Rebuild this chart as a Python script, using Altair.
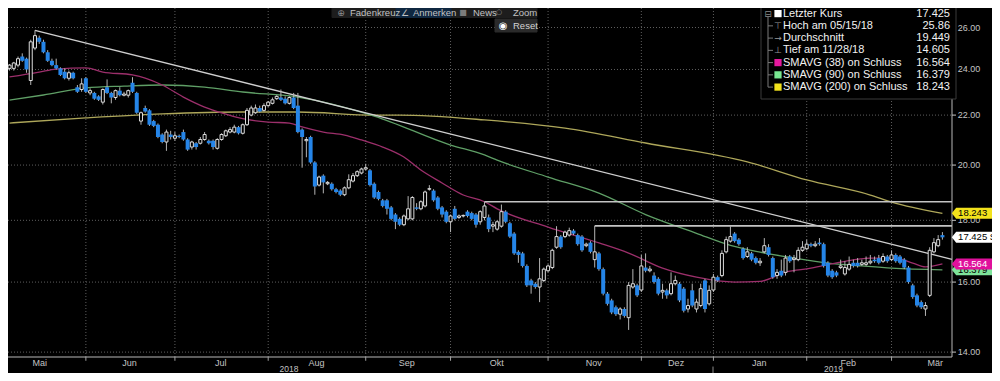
import altair as alt
import pandas as pd

# ---------------- data ----------------
opens = [
    24.05, 24.05, 24.2, 24.6, 24.5, 23.5, 25.0, 25.5, 25.3, 24.8,
    24.4, 24.2, 24.05, 23.9, 23.6, 23.85, 23.2, 23.1, 23.6, 22.95,
    22.95, 22.8, 22.55, 23.2, 22.95, 22.75, 23.05, 22.85, 22.85, 23.4,
    22.95, 21.75, 22.3, 22.2, 21.75, 21.6, 21.2, 20.9, 21.2, 21.05,
    21.15, 21.3, 21.0, 20.7, 20.85, 20.85, 21.0, 20.95, 20.95, 20.65,
    21.0, 21.15, 21.3, 21.3, 21.5, 21.25, 21.6, 22.0, 22.1, 22.3,
    22.2, 22.4, 22.5, 22.7, 22.75, 22.7, 22.5, 22.75, 22.4, 21.4,
    20.95, 21.1, 20.1, 19.25, 19.6, 19.3, 19.3, 19.1, 19.05, 18.9,
    19.15, 19.4, 19.6, 19.7, 19.85, 19.8, 19.3, 19.0, 18.7, 18.7,
    18.45, 18.2, 18.05, 17.85, 18.05, 18.05, 18.45, 18.4, 18.5, 19.1,
    19.05, 18.8, 18.45, 18.3, 17.95, 18.4, 18.1, 18.15, 18.3, 18.25,
    18.2, 17.95, 18.1, 18.1, 17.8, 17.7, 17.8, 18.3, 17.9, 17.55,
    16.95, 16.9, 16.5, 16.05, 15.95, 15.85, 16.05, 16.35, 16.45, 17.1,
    17.45, 17.45, 17.5, 17.65, 17.5, 17.45, 17.15, 17.25, 16.7, 16.9,
    16.4, 15.65, 15.45, 15.25, 15.05, 15.2, 14.95, 15.85, 15.9, 15.76,
    16.45, 16.35, 16.2, 16.1, 15.7, 15.75, 15.65, 15.95, 15.95, 15.8,
    15.2, 15.75, 15.2, 15.3, 16.05, 15.35, 15.76, 16.15, 16.2, 16.95,
    17.3, 17.55, 17.35, 17.05, 16.8, 16.9, 16.75, 16.6, 16.95, 17.1,
    16.75, 16.2, 16.35, 16.3, 16.8, 16.7, 16.7, 17.0, 17.05, 17.2,
    17.15, 17.25, 17.2, 16.6, 16.35, 16.3, 16.45, 16.25, 16.4, 16.6,
    16.6, 16.55, 16.55, 16.6, 16.7, 16.75, 16.65, 16.8, 16.7, 16.85,
    16.8, 16.7, 16.45, 15.9, 15.6, 15.4, 15.2, 15.6, 16.95, 17.15, 17.5,
]
highs = [
    24.25, 24.35, 24.6, 24.75, 24.55, 25.4, 25.86, 25.6, 25.4, 24.9,
    24.5, 24.5, 24.1, 24.05, 23.95, 23.9, 23.3, 23.6, 23.65, 23.15,
    23.0, 22.85, 23.15, 23.55, 23.0, 23.1, 23.2, 23.0, 23.1, 23.65,
    23.0, 22.15, 22.4, 22.25, 21.8, 21.65, 21.25, 21.4, 21.35, 21.3,
    21.2, 21.4, 21.05, 20.95, 20.9, 21.1, 21.3, 21.0, 21.0, 21.05,
    21.25, 21.4, 21.5, 21.6, 21.55, 21.65, 22.3, 22.4, 22.45, 22.4,
    22.5, 22.6, 22.75, 22.85, 23.1, 22.8, 22.8, 22.95, 22.95, 21.45,
    21.1, 21.15, 20.15, 19.6, 19.65, 19.4, 19.35, 19.15, 19.1, 19.2,
    19.65, 19.7, 19.8, 19.9, 20.05, 19.85, 19.35, 19.05, 18.75, 18.75,
    18.5, 18.25, 18.1, 18.2, 18.85, 18.85, 18.6, 18.7, 19.05, 19.25,
    19.1, 18.85, 18.5, 18.35, 18.2, 18.5, 18.2, 18.2, 18.35, 18.3,
    18.25, 18.35, 18.65, 18.2, 17.95, 18.0, 18.55, 18.35, 17.95, 17.6,
    17.0, 16.95, 16.55, 16.1, 16.0, 16.75, 16.45, 16.55, 17.05, 17.8,
    17.5, 17.65, 17.75, 17.7, 17.55, 17.5, 17.25, 17.3, 17.81, 16.95,
    16.45, 15.7, 15.5, 15.3, 15.25, 15.25, 16.0, 16.4, 15.95, 16.85,
    16.9, 16.5, 16.3, 16.15, 15.95, 15.8, 16.3, 16.2, 16.0, 15.85,
    15.5, 15.95, 15.5, 15.95, 16.1, 15.9, 16.25, 16.2, 17.0, 17.45,
    17.8, 17.6, 17.4, 17.1, 17.1, 16.95, 16.8, 16.75, 17.4, 17.2,
    16.8, 16.4, 16.7, 16.85, 16.85, 16.85, 17.1, 17.3, 17.35, 17.25,
    17.3, 17.4, 17.25, 16.65, 16.4, 16.35, 16.7, 16.65, 16.8, 16.7,
    16.75, 16.7, 16.8, 16.85, 16.8, 16.85, 16.9, 16.85, 17.0, 16.9,
    16.85, 16.75, 16.5, 15.95, 15.65, 15.45, 15.4, 17.1, 17.4, 17.5, 17.6,
]
lows = [
    23.95, 23.95, 24.1, 24.35, 23.85, 23.3, 24.9, 25.2, 24.75, 24.35,
    24.15, 24.0, 23.7, 23.55, 23.5, 23.55, 22.95, 23.0, 22.95, 22.85,
    22.65, 22.6, 22.45, 22.9, 22.5, 22.65, 22.8, 22.8, 22.75, 22.95,
    22.05, 21.6, 22.1, 21.55, 21.5, 21.05, 20.85, 20.55, 21.0, 20.95,
    21.05, 20.95, 20.55, 20.6, 20.6, 20.8, 20.95, 20.8, 20.6, 20.6,
    20.95, 21.1, 21.25, 21.25, 21.2, 21.2, 21.55, 21.95, 22.05, 22.1,
    22.15, 22.35, 22.45, 22.65, 22.6, 22.45, 22.45, 22.25, 21.25, 19.9,
    20.3, 20.05, 18.9, 19.2, 18.95, 19.25, 19.05, 18.95, 18.85, 18.85,
    19.1, 19.35, 19.55, 19.65, 19.8, 19.2, 18.75, 18.7, 18.45, 18.2,
    18.0, 17.7, 17.8, 17.8, 18.0, 18.0, 18.35, 18.35, 18.45, 19.05,
    18.65, 18.35, 18.1, 17.9, 17.6, 18.0, 18.05, 18.1, 18.1, 18.0,
    17.75, 17.85, 18.0, 17.6, 17.6, 17.65, 17.75, 17.9, 17.4, 16.85,
    16.6, 16.45, 15.85, 15.65, 15.8, 15.4, 16.0, 16.3, 16.4, 17.05,
    17.05, 17.4, 17.45, 17.5, 17.15, 16.95, 17.1, 16.9, 16.45, 16.35,
    15.6, 15.3, 15.05, 15.0, 14.9, 14.95, 14.605, 15.8, 15.55, 15.7,
    16.3, 16.3, 15.95, 15.6, 15.5, 15.5, 15.6, 15.9, 15.4, 15.1,
    15.1, 15.25, 15.1, 15.25, 15.1, 15.3, 15.7, 16.0, 16.15, 16.9,
    17.25, 17.25, 17.15, 16.7, 16.75, 16.65, 16.55, 16.5, 16.9, 16.8,
    16.1, 16.1, 16.15, 16.2, 16.6, 16.3, 16.65, 16.95, 17.0, 17.1,
    17.1, 17.15, 16.45, 16.15, 16.1, 16.15, 16.4, 16.2, 16.35, 16.45,
    16.45, 16.5, 16.5, 16.55, 16.6, 16.55, 16.6, 16.6, 16.65, 16.6,
    16.55, 16.4, 15.95, 15.5, 15.25, 15.2, 15.0, 15.55, 16.9, 17.1, 17.35,
]
closes = [
    24.2, 24.3, 24.5, 24.4, 24.0, 25.3, 25.6, 25.3, 24.8, 24.4,
    24.2, 24.05, 23.75, 23.6, 23.85, 23.6, 23.0, 23.35, 23.0, 23.05,
    22.7, 22.65, 23.1, 22.95, 22.75, 23.05, 22.85, 22.9, 23.05, 23.0,
    22.1, 22.1, 22.15, 21.6, 21.55, 21.1, 20.9, 21.3, 21.1, 21.15,
    21.1, 21.0, 20.6, 20.9, 20.7, 21.0, 21.2, 20.85, 20.7, 21.0,
    21.2, 21.35, 21.4, 21.5, 21.25, 21.6, 22.2, 22.3, 22.3, 22.15,
    22.4, 22.55, 22.65, 22.8, 22.65, 22.5, 22.75, 22.3, 21.3, 21.1,
    21.0, 20.1, 19.2, 19.55, 19.35, 19.35, 19.1, 19.0, 18.9, 19.15,
    19.45, 19.6, 19.75, 19.85, 19.9, 19.25, 18.8, 18.75, 18.5, 18.4,
    18.05, 17.95, 17.85, 18.15, 18.4, 18.8, 18.4, 18.65, 19.0, 19.12,
    18.7, 18.4, 18.2, 17.95, 18.15, 18.05, 18.15, 18.17, 18.15, 18.05,
    17.85, 18.3, 18.5, 17.7, 17.85, 17.95, 18.3, 17.95, 17.45, 16.9,
    16.85, 16.5, 15.9, 15.9, 15.85, 16.1, 16.4, 16.5, 17.0, 17.45,
    17.1, 17.6, 17.65, 17.55, 17.2, 17.0, 17.2, 16.95, 16.95, 16.4,
    15.65, 15.35, 15.1, 15.05, 15.2, 15.0, 15.9, 15.95, 15.6, 16.5,
    16.35, 16.4, 16.0, 15.65, 15.75, 15.6, 15.95, 16.05, 15.45, 15.15,
    15.3, 15.3, 15.4, 15.8, 15.2, 15.75, 16.15, 16.05, 16.9, 17.35,
    17.45, 17.3, 17.2, 16.75, 16.95, 16.7, 16.6, 16.65, 17.15, 16.85,
    16.15, 16.3, 16.2, 16.75, 16.65, 16.75, 17.0, 17.1, 17.2, 17.15,
    17.2, 17.2, 16.5, 16.2, 16.15, 16.2, 16.5, 16.45, 16.55, 16.5,
    16.5, 16.6, 16.6, 16.65, 16.65, 16.6, 16.8, 16.65, 16.85, 16.65,
    16.6, 16.45, 16.0, 15.55, 15.3, 15.25, 15.3, 17.0, 17.25, 17.35, 17.425,
]

ma38_day = [0, 7, 11, 18, 22, 29, 32, 36, 41, 46, 50, 55, 61, 66, 69, 74, 79, 83, 88, 93,
            97, 102, 107, 112, 115, 127, 139, 146, 154, 162, 171, 177, 183, 189, 196, 203,
            209, 213, 216, 220]
ma38_val = [23.66, 23.88, 24.02, 24.07, 23.88, 23.75, 23.61, 23.30, 22.77, 22.34, 22.09,
            21.85, 21.71, 21.67, 21.51, 21.30, 21.18, 20.98, 20.70, 20.31, 19.81, 19.33,
            18.89, 18.65, 18.40, 17.77, 17.24, 16.91, 16.43, 16.15, 16.00, 16.02, 16.31,
            16.43, 16.62, 16.75, 16.75, 16.59, 16.47, 16.564]
ma90_day = [0, 8, 18, 27, 36, 46, 55, 68, 86, 104, 112, 115, 127, 139, 150, 162, 170, 177,
            185, 193, 201, 208, 220]
ma90_val = [22.64, 22.86, 23.17, 23.25, 23.30, 23.21, 22.99, 22.77, 21.96, 20.78, 20.39,
            20.19, 19.55, 18.96, 18.20, 17.56, 17.16, 16.94, 16.75, 16.59, 16.50, 16.43, 16.379]
ma200_day = [0, 18, 36, 55, 68, 86, 92, 112, 131, 150, 174, 188, 203, 208, 220]
ma200_val = [21.67, 21.88, 22.05, 22.13, 22.13, 22.0, 22.0, 21.80, 21.46, 20.86, 20.12,
             19.44, 18.89, 18.64, 18.243]

trend_day = [6, 222.26]
trend_val = [25.86, 16.71]
resist_start = [112, 138]
resist_val = [18.65, 17.81]

month_bounds = [18, 39, 61, 84, 104, 127, 149, 166, 188, 208]
month_names = ["Mai", "Jun", "Jul", "Aug", "Sep", "Okt", "Nov", "Dez", "Jan", "Feb", "Mär"]
month_mid = [7.1, 28.3, 49.8, 72.4, 93.7, 114.9, 137.8, 157.2, 176.8, 197.8, 218.3]
year_names = ["2018", "2019"]
year_mid = [65.9, 194.3]
price_ticks = [14, 16, 18, 20, 22, 24, 26]

legend_labels = ["Letzter Kurs", "Hoch am 05/15/18", "Durchschnitt", "Tief am 11/28/18",
                 "SMAVG (38)  on Schluss", "SMAVG (90)  on Schluss", "SMAVG (200)  on Schluss"]
legend_values = ["17.425", "25.86", "19.449", "14.605", "16.564", "16.379", "18.243"]
tag_values = [16.379, 18.243, 17.425, 16.564]
tag_texts = ["16.379", "18.243", "17.425 SDF", "16.564"]

# ---------------- styling ----------------
FONT = "Liberation Sans"
BLUE = "#2585e8"
C38, C90, C200 = "#9c2f6b", "#5f9f66", "#aea75a"
X0, X1 = -1.07, 222.26
Y0, Y1 = 13.87, 27.4
XS = alt.Scale(domain=[X0, X1], nice=False, zero=False)
YS = alt.Scale(type="log", domain=[Y0, Y1], nice=False)
GRID = "#5e5e5e"
AXC = "#c4c4c4"
dummy = pd.DataFrame({"k": [0]})


def X(f):
    return alt.X(f, type="quantitative", scale=XS, axis=None)


def Y(f):
    return alt.Y(f, type="quantitative", scale=YS, axis=None)


candles = pd.DataFrame({"day": list(range(len(closes))), "open": opens, "high": highs,
                        "low": lows, "close": closes})
candles["up"] = candles["close"] >= candles["open"]

layers = []

# grid
vg = pd.DataFrame({"day": month_bounds, "a": [Y0] * len(month_bounds), "b": [Y1] * len(month_bounds)})
layers.append(alt.Chart(vg).mark_rule(color=GRID, strokeDash=[1, 2], strokeWidth=1)
              .encode(x=X("day"), y=Y("a"), y2="b"))
hg = pd.DataFrame({"v": price_ticks, "a": [X0] * len(price_ticks), "b": [X1] * len(price_ticks)})
layers.append(alt.Chart(hg).mark_rule(color=GRID, strokeDash=[1, 2], strokeWidth=1)
              .encode(x=X("a"), x2="b", y=Y("v")))

# MA lines
for days, vals, col in [(ma200_day, ma200_val, C200), (ma90_day, ma90_val, C90),
                        (ma38_day, ma38_val, C38)]:
    df = pd.DataFrame({"day": days, "v": vals})
    layers.append(alt.Chart(df).mark_line(color=col, strokeWidth=1.3, interpolate="monotone")
                  .encode(x=X("day"), y=Y("v")))

# trendline
layers.append(alt.Chart(pd.DataFrame({"day": trend_day, "v": trend_val}))
              .mark_line(color="#cfcfcf", strokeWidth=1.3).encode(x=X("day"), y=Y("v")))

# resistance lines
res = pd.DataFrame({"s": resist_start, "e": [X1] * len(resist_start), "v": resist_val})
layers.append(alt.Chart(res).mark_rule(color="#c4c4c4", strokeWidth=1.6)
              .encode(x=X("s"), x2="e", y=Y("v")))

# candles
layers.append(alt.Chart(candles).mark_rule(color="#b4b4b4", strokeWidth=1)
              .encode(x=X("day"), y=Y("low"), y2="high"))
layers.append(alt.Chart(candles).transform_filter("!datum.up")
              .mark_bar(color=BLUE, size=4).encode(x=X("day"), y=Y("open"), y2="close"))
layers.append(alt.Chart(candles).transform_filter("datum.up")
              .mark_bar(fill="#000000", stroke="#dcdcdc", strokeWidth=1, size=3)
              .encode(x=X("day"), y=Y("open"), y2="close"))

# axes drawn as marks: domain lines, ticks, labels
layers.append(alt.Chart(pd.DataFrame({"a": [X0], "b": [X1], "v": [Y0]}))
              .mark_rule(color="#b8b8b8").encode(x=X("a"), x2="b", y=Y("v")))
layers.append(alt.Chart(pd.DataFrame({"d": [X1], "a": [Y0], "b": [Y1]}))
              .mark_rule(color="#b8b8b8").encode(x=X("d"), y=Y("a"), y2="b"))
mt = pd.DataFrame({"day": month_bounds, "a": [Y0] * len(month_bounds), "b": [13.77] * len(month_bounds)})
layers.append(alt.Chart(mt).mark_rule(color="#a0a0a0").encode(x=X("day"), y=Y("a"), y2="b"))
yt = pd.DataFrame({"v": price_ticks, "a": [X1] * len(price_ticks), "b": [223.2] * len(price_ticks),
                   "lx": [223.6] * len(price_ticks), "t": [f"{p:.2f}" for p in price_ticks]})
layers.append(alt.Chart(yt).mark_rule(color=AXC).encode(x=X("a"), x2="b", y=Y("v")))
layers.append(alt.Chart(yt).mark_text(font=FONT, fontSize=9, color=AXC, align="left")
              .encode(x=X("lx"), y=Y("v"), text="t:N"))

months = pd.DataFrame({"day": month_mid, "v": [13.72] * len(month_mid), "t": month_names})
layers.append(alt.Chart(months).mark_text(font=FONT, fontSize=9, color=AXC)
              .encode(x=X("day"), y=Y("v"), text="t:N"))
years = pd.DataFrame({"day": year_mid, "v": [13.555] * 2, "t": year_names})
layers.append(alt.Chart(years).mark_text(font=FONT, fontSize=8.5, color=AXC)
              .encode(x=X("day"), y=Y("v"), text="t:N"))
layers.append(alt.Chart(pd.DataFrame({"day": [165.9], "a": [13.62], "b": [13.4]}))
              .mark_rule(color="#8a8a8a").encode(x=X("day"), y=Y("a"), y2="b"))

# price tags at right
TAG = "M -1 0 L -0.8 -0.25 L 1 -0.25 L 1 0.25 L -0.8 0.25 Z"
tag_fill = ["#7de39a", "#f2e21c", "#ffffff", "#e0109c"]
tag_tc = ["#000000", "#000000", "#000000", "#ffffff"]
for v, t, f, tc in zip(tag_values, tag_texts, tag_fill, tag_tc):
    df = pd.DataFrame({"day": [227.4], "tx": [223.7], "v": [v], "t": [t]})
    layers.append(alt.Chart(df).mark_point(shape=TAG, size=1936, filled=True, fill=f,
                                           opacity=1, strokeWidth=0)
                  .encode(x=X("day"), y=Y("v")))
    layers.append(alt.Chart(df).mark_text(font=FONT, fontSize=9.5, color=tc, align="left")
                  .encode(x=X("tx"), y=Y("v"), text="t:N"))


# ---------------- chrome (legend box, toolbar) ----------------
def rect(x, x2, y, y2, fill, stroke=None):
    return alt.Chart(dummy).mark_rect(fill=fill, stroke=stroke or fill, strokeWidth=1).encode(
        x=alt.value(x), x2=alt.value(x2), y=alt.value(y), y2=alt.value(y2))


def label(text, x, y, size, color, align="left", font=FONT):
    return alt.Chart(dummy).mark_text(text=text, align=align, baseline="middle",
                                      fontSize=size, color=color, font=font).encode(
        x=alt.value(x), y=alt.value(y))


def vline(x, y, y2, color):
    return alt.Chart(dummy).mark_rule(color=color, strokeWidth=1).encode(
        x=alt.value(x), y=alt.value(y), y2=alt.value(y2))


def hline(x, x2, y, color):
    return alt.Chart(dummy).mark_rule(color=color, strokeWidth=1).encode(
        x=alt.value(x), x2=alt.value(x2), y=alt.value(y))


layers.append(rect(761, 956, 0, 99, "#000000", "#3a3a3a"))
rows_y = [13.6 + 12.25 * k for k in range(7)]
layers.append(vline(768, 17, rows_y[-1], "#7a7a7a"))
for k, yy in enumerate(rows_y):
    if k > 0:
        layers.append(hline(768, 773, yy, "#7a7a7a"))
    layers.append(label(legend_labels[k], 783, yy, 11, "#f2f2f2"))
    layers.append(label(legend_values[k], 950, yy, 11, "#f2f2f2", align="right"))
layers.append(label("⊟", 768, rows_y[0], 9, "#8a8a8a", align="center", font="DejaVu Sans"))
sq_cols = {0: "#ffffff", 4: "#e6189e", 5: "#78e690", 6: "#f2e21c"}
for k, col in sq_cols.items():
    layers.append(alt.Chart(dummy).mark_square(size=52, color=col, opacity=1).encode(
        x=alt.value(778), y=alt.value(rows_y[k])))
for k, g in [(1, "⊤"), (2, "→"), (3, "⊥")]:
    layers.append(label(g, 778, rows_y[k], 9, "#9a9a9a", align="center", font="DejaVu Sans"))

# toolbar
TB = 12.8
layers.append(rect(332, 537, 0, 17.5, "#1d1d1d"))
layers.append(rect(396, 451, 0, 17.5, "#0f2740"))
layers.append(rect(495, 537, 19, 32, "#2a2a2a"))
layers.append(label("⊕", 341, TB, 9, "#8c8c8c", align="center", font="DejaVu Sans"))
layers.append(label("Fadenkreuz", 350, TB, 9.5, "#c2c2c2"))
layers.append(label("∠", 405, TB, 9, "#c2c2c2", align="center", font="DejaVu Sans"))
layers.append(label("Anmerken", 413, TB, 9.5, "#c2c2c2"))
layers.append(label("■", 463, TB, 8, "#7c7c7c", align="center", font="DejaVu Sans"))
layers.append(label("News", 473, TB, 9.5, "#c2c2c2"))
layers.append(label("○", 499, TB - 0.5, 7, "#9a9a9a", align="center", font="DejaVu Sans"))
layers.append(label("Zoom", 513, TB, 9.5, "#c2c2c2"))
layers.append(label("◉", 503, 25.5, 10, "#ffffff", align="center", font="DejaVu Sans"))
layers.append(label("Reset", 513, 25.7, 9.5, "#d2d2d2"))

chart = alt.layer(*layers).properties(
    width=957, height=357,
    autosize=alt.AutoSizeParams(type="none"),
    padding={"left": -8, "top": -8, "right": 35, "bottom": 16},
    background="#000000",
).configure_view(stroke=None)

chart.save("out.html", embed_options={"renderer": "svg", "actions": False})
